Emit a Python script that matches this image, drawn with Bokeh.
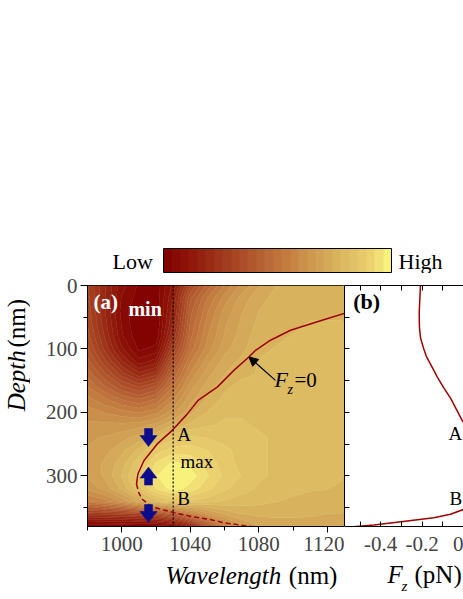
import numpy as np
from bokeh.plotting import figure
from bokeh.layouts import column, row
from bokeh.models import (Range1d, LinearAxis, FixedTicker, Label, Span, Arrow,
                          NormalHead, ColorBar, LinearColorMapper)
from bokeh.embed import file_html
from bokeh.resources import INLINE

SERIF = "Liberation Serif"

# ---------------- data ----------------
wavelength = [980, 990, 1000, 1010, 1020, 1030, 1040, 1050, 1060, 1070, 1080, 1090, 1100, 1110, 1120, 1130]
depth = [0, 20, 40, 60, 80, 100, 120, 140, 160, 180, 200, 220, 240, 260, 280, 300, 320, 340, 360, 380]
# normalised field intensity (0 = Low, 1 = High), one row per depth
intensity = [
    [0.30, 0.19, 0.09, 0.03, 0.02, 0.12, 0.33, 0.46, 0.56, 0.64, 0.70, 0.74, 0.76, 0.76, 0.77, 0.77],
    [0.31, 0.19, 0.07, 0.02, 0.01, 0.15, 0.40, 0.52, 0.61, 0.68, 0.73, 0.75, 0.76, 0.77, 0.77, 0.77],
    [0.32, 0.19, 0.06, 0.00, 0.00, 0.17, 0.43, 0.55, 0.64, 0.70, 0.74, 0.76, 0.77, 0.77, 0.77, 0.77],
    [0.33, 0.20, 0.07, 0.00, 0.00, 0.19, 0.45, 0.57, 0.66, 0.71, 0.75, 0.77, 0.77, 0.78, 0.78, 0.78],
    [0.35, 0.22, 0.08, 0.01, 0.01, 0.23, 0.47, 0.59, 0.67, 0.72, 0.76, 0.77, 0.78, 0.78, 0.78, 0.78],
    [0.38, 0.25, 0.12, 0.03, 0.05, 0.30, 0.50, 0.61, 0.69, 0.73, 0.77, 0.78, 0.78, 0.78, 0.78, 0.78],
    [0.42, 0.31, 0.19, 0.09, 0.13, 0.38, 0.55, 0.65, 0.72, 0.75, 0.78, 0.78, 0.78, 0.78, 0.78, 0.78],
    [0.47, 0.38, 0.28, 0.20, 0.25, 0.45, 0.60, 0.69, 0.74, 0.77, 0.78, 0.79, 0.79, 0.79, 0.79, 0.79],
    [0.52, 0.45, 0.38, 0.33, 0.38, 0.52, 0.65, 0.72, 0.77, 0.79, 0.79, 0.79, 0.79, 0.79, 0.79, 0.79],
    [0.57, 0.53, 0.48, 0.45, 0.49, 0.59, 0.69, 0.75, 0.79, 0.80, 0.80, 0.80, 0.80, 0.79, 0.79, 0.79],
    [0.61, 0.59, 0.57, 0.55, 0.58, 0.65, 0.73, 0.78, 0.81, 0.81, 0.81, 0.81, 0.80, 0.80, 0.80, 0.80],
    [0.64, 0.64, 0.64, 0.65, 0.68, 0.74, 0.79, 0.81, 0.82, 0.82, 0.81, 0.81, 0.80, 0.80, 0.80, 0.80],
    [0.66, 0.67, 0.69, 0.72, 0.78, 0.84, 0.86, 0.85, 0.84, 0.83, 0.82, 0.81, 0.80, 0.80, 0.79, 0.79],
    [0.67, 0.69, 0.73, 0.79, 0.87, 0.91, 0.91, 0.89, 0.86, 0.84, 0.82, 0.81, 0.80, 0.80, 0.79, 0.79],
    [0.68, 0.71, 0.76, 0.84, 0.93, 0.97, 0.95, 0.91, 0.87, 0.84, 0.82, 0.81, 0.80, 0.79, 0.79, 0.78],
    [0.67, 0.71, 0.78, 0.87, 0.96, 1.00, 0.98, 0.93, 0.88, 0.85, 0.82, 0.81, 0.80, 0.79, 0.78, 0.78],
    [0.64, 0.68, 0.75, 0.84, 0.93, 0.98, 0.95, 0.90, 0.86, 0.83, 0.81, 0.80, 0.79, 0.78, 0.78, 0.77],
    [0.55, 0.58, 0.64, 0.72, 0.80, 0.85, 0.85, 0.83, 0.81, 0.80, 0.79, 0.78, 0.77, 0.77, 0.76, 0.76],
    [0.26, 0.27, 0.28, 0.30, 0.34, 0.42, 0.55, 0.65, 0.71, 0.74, 0.75, 0.75, 0.75, 0.75, 0.74, 0.74],
    [0.00, 0.00, 0.00, 0.00, 0.00, 0.03, 0.14, 0.36, 0.55, 0.66, 0.70, 0.72, 0.72, 0.71, 0.70, 0.70],
]

# F_z = 0 contour, stable (solid) and unstable (dashed) branches
fz0_stable_wl = [1130, 1114.1, 1098.5, 1086.8, 1078.1, 1074.2, 1065.4, 1055.7, 1044.5, 1037.8, 1029.6, 1020.7, 1012.9, 1009.4, 1008.6]
fz0_stable_depth = [44, 57.3, 70.5, 86.3, 102.1, 112.7, 133.8, 160.2, 181.3, 204, 228, 249.8, 276.3, 297.3, 313.2]
fz0_unstable_wl = [1008.6, 1009.9, 1011.9, 1016.8, 1022.6, 1030.4, 1042, 1050.8, 1059.6, 1077.1]
fz0_unstable_depth = [313.2, 326.5, 337, 347.5, 352.8, 358.1, 365, 368.6, 374, 380.8]

cut_wavelength = 1030
arrow_wl = [1015.6, 1015.6, 1015.6]
arrow_depth = [239.7, 300.5, 359.6]
arrow_dir = [1, -1, 1]  # +1 points to larger depth

# panel (b): F_z along the cut at 1030 nm
fz_upper = [-0.208, -0.211, -0.214, -0.213, -0.208, -0.194, -0.179, -0.153, -0.127, -0.096, -0.062, -0.033, -0.006, 0.014, 0.03]
fz_upper_depth = [0, 22, 43, 65, 82, 98, 112, 128, 144, 161, 178, 196, 213, 223, 231]
fz_lower = [0.03, 0.0015, -0.063, -0.1435, -0.272, -0.433, -0.575]
fz_lower_depth = [345, 352.9, 360.8, 366.2, 371.4, 377.8, 381.5]

wl_ticks = [1000, 1040, 1080, 1120]
wl_minor = [980, 1020, 1060, 1100]
depth_ticks = [0, 100, 200, 300]
depth_minor = [50, 150, 250, 350]
fz_ticks = [-0.4, -0.2, 0.0]
fz_minor = [-0.5, -0.3, -0.1]

# ---------------- palette ----------------
anch_v = [0.0, 0.1, 0.2, 0.3, 0.4, 0.5, 0.6, 0.7, 0.8, 0.9, 0.95, 1.0]
anch_c = ["#800000", "#8c1208", "#982a14", "#a64222", "#b25a30", "#bf723c",
          "#c98c48", "#d2a456", "#dcbc62", "#eacf6e", "#f2e276", "#fcfc80"]
rgb = np.array([[int(c[i:i + 2], 16) for i in (1, 3, 5)] for c in anch_c], float)
NB = 27
mids = (np.arange(NB) + 0.5) / NB
palette = []
for m in mids:
    col = [np.interp(m, anch_v, rgb[:, k]) for k in range(3)]
    palette.append("#%02x%02x%02x" % tuple(int(round(v)) for v in col))
levels = list(np.linspace(0, 1, NB + 1))
levels[0] = -0.01
levels[-1] = 1.01
level_line_colors = [palette[min(i, NB - 1)] for i in range(NB + 1)]

# ---------------- helpers ----------------
def lab(p, x, y, text, size, style="normal", color="black", align="left", angle=0.0):
    p.add_layout(Label(x=x, y=y, text=text, text_font=SERIF, text_font_size=f"{size}px",
                       text_font_style=style, text_color=color, text_align=align,
                       text_baseline="middle", angle=angle))


def blank(width, height):
    f = figure(width=width, height=height, x_range=Range1d(0, width), y_range=Range1d(height, 0),
               output_backend="svg", toolbar_location=None, min_border=0,
               x_axis_location=None, y_axis_location=None)
    f.outline_line_color = None
    f.grid.visible = False
    return f

# ---------------- colour bar strip ----------------
TOP_H = 273
top = blank(463, TOP_H)
mapper = LinearColorMapper(palette=palette, low=0, high=1)
cb = ColorBar(color_mapper=mapper, orientation="horizontal", location=(163, 1),
              width=228, height=24, padding=0, margin=0, ticker=FixedTicker(ticks=[]),
              major_label_text_font_size="0px", major_tick_line_color=None,
              minor_tick_line_color=None, bar_line_color="black", bar_line_width=1,
              border_line_color=None, background_fill_color=None)
top.add_layout(cb, "center")
lab(top, 112, 260.5, "Low", 22)
lab(top, 398, 260.5, "High", 22)

# ---------------- y-axis title strip ----------------
PH = 287  # height of the panel row
left = blank(30, PH)
lab(left, 15.5, 113.5, "Depth", 25, style="italic", align="center", angle=np.pi / 2)
lab(left, 15.5, 45, "(nm)", 25, align="center", angle=np.pi / 2)

# ---------------- panel (a) ----------------
p1 = figure(width=314, height=PH, x_range=Range1d(980, 1130), y_range=Range1d(380, 0),
            output_backend="svg", toolbar_location=None, min_border_left=57,
            min_border_right=0, min_border_top=12, min_border_bottom=34,
            x_axis_location=None, y_axis_location=None)
p1.grid.visible = False
p1.outline_line_color = "black"
p1.contour(x=wavelength, y=depth, z=np.array(intensity), levels=levels,
           fill_color=palette, line_color=level_line_colors, line_width=0.8)

p1.line(fz0_stable_wl, fz0_stable_depth, line_color="#a00000", line_width=1.5)
p1.line(fz0_unstable_wl, fz0_unstable_depth, line_color="#a00000", line_width=1.5,
        line_dash="5 3")
p1.add_layout(Span(location=cut_wavelength, dimension="height", line_color="black",
                   line_dash="2 2", line_width=1.2))

kx = 150 / 257.0
ky = 380 / 241.0
shape = [(-4, -9), (4, -9), (4, -2), (8.5, -2), (0, 9), (-8.5, -2), (-4, -2)]
axs, ays = [], []
for w, d, s in zip(arrow_wl, arrow_depth, arrow_dir):
    axs.append([w + dx * kx for dx, dy in shape])
    ays.append([d + s * dy * ky for dx, dy in shape])
p1.patches(axs, ays, fill_color="#0c0c8c", line_color="#0c0c8c", line_width=0.5)

p1.add_layout(Arrow(end=NormalHead(size=9, fill_color="black", line_color="black"),
                    x_start=1089.7, y_start=149.6, x_end=1074.2, y_end=112.6,
                    line_color="black", line_width=1.2))

yax = LinearAxis(ticker=FixedTicker(ticks=depth_ticks, minor_ticks=depth_minor),
                 major_tick_out=7, major_tick_in=0, minor_tick_out=4, minor_tick_in=0,
                 major_label_text_font=SERIF, major_label_text_font_size="21px",
                 major_label_standoff=3)
p1.add_layout(yax, "left")
xax = LinearAxis(ticker=FixedTicker(ticks=wl_ticks, minor_ticks=wl_minor),
                 major_tick_out=6, major_tick_in=0, minor_tick_out=4, minor_tick_in=0,
                 major_label_text_font=SERIF, major_label_text_font_size="21px",
                 major_label_standoff=4)
p1.add_layout(xax, "below")

lab(p1, 983.5, 26.8, "(a)", 21, style="bold", color="white")
lab(p1, 1003.9, 36.9, "min", 20, style="bold", color="white")
lab(p1, 1032.4, 235, "A", 19)
lab(p1, 1034.3, 276.8, "max", 19)
lab(p1, 1032.4, 336, "B", 19)
lab(p1, 1089.1, 148.5, "F", 22, style="italic")
lab(p1, 1096.7, 164.4, "z", 14, style="italic")
lab(p1, 1100.8, 149.2, "=0", 21)

# ---------------- panel (b) ----------------
p2 = figure(width=119, height=PH, x_range=Range1d(-0.575, 0.0), y_range=Range1d(380, 0),
            output_backend="svg", toolbar_location=None, min_border_left=0,
            min_border_right=0, min_border_top=12, min_border_bottom=34,
            x_axis_location=None, y_axis_location=None)
p2.grid.visible = False
p2.outline_line_color = None
p2.line(fz_upper, fz_upper_depth, line_color="#a00000", line_width=1.5)
p2.line(fz_lower, fz_lower_depth, line_color="#a00000", line_width=1.5)

# mirror axes of panel (b): tick marks only (all as unlabelled minor ticks)
p2.add_layout(LinearAxis(ticker=FixedTicker(ticks=[], minor_ticks=sorted(depth_ticks + depth_minor)),
                         minor_tick_out=0, minor_tick_in=5, major_tick_out=0, major_tick_in=0,
                         major_label_standoff=0), "left")
p2.add_layout(LinearAxis(ticker=FixedTicker(ticks=[], minor_ticks=sorted(fz_ticks + fz_minor)),
                         minor_tick_out=0, minor_tick_in=5, major_tick_out=0, major_tick_in=0,
                         major_label_standoff=0), "above")
p2.add_layout(LinearAxis(ticker=FixedTicker(ticks=fz_ticks, minor_ticks=fz_minor),
                         major_tick_out=0, major_tick_in=5, minor_tick_out=0, minor_tick_in=5,
                         major_label_text_font=SERIF, major_label_text_font_size="21px",
                         major_label_standoff=10,
                         major_label_overrides={-0.4: "-0.4", -0.2: "-0.2", 0.0: "0"}), "below")

lab(p2, -0.533, 24.8, "(b)", 22, style="bold")
lab(p2, -0.0725, 233.4, "A", 19)
lab(p2, -0.0676, 336, "B", 19)

# ---------------- x-axis title strip ----------------
bottom = blank(463, 39)
lab(bottom, 165, 14.5, "Wavelength", 25, style="italic")
lab(bottom, 288.3, 14.5, "(nm)", 25)
lab(bottom, 387, 13.5, "F", 25, style="italic")
lab(bottom, 401, 25, "z", 15, style="italic")
lab(bottom, 414, 13.5, "(pN)", 25)

layout = column(top, row(left, p1, p2), bottom)
open("out.html", "w").write(file_html(layout, INLINE))
